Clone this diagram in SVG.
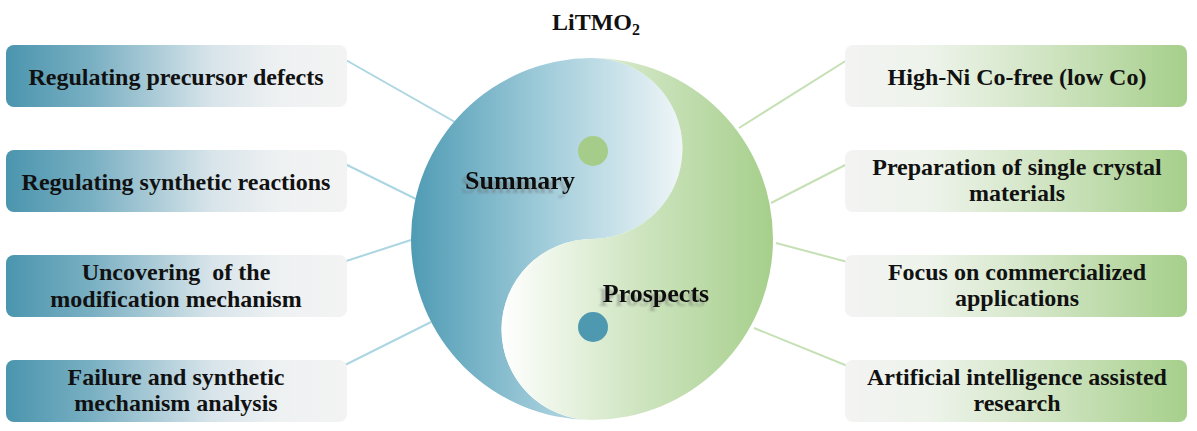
<svg xmlns="http://www.w3.org/2000/svg" width="1197" height="431" viewBox="0 0 1197 431">
<defs>
<linearGradient id="gLeftBox" x1="0" y1="0" x2="1" y2="0">
<stop offset="0" stop-color="#4a95ae"/>
<stop offset="0.25" stop-color="#79afc2"/>
<stop offset="0.6" stop-color="#d7e4ea"/>
<stop offset="0.8" stop-color="#eef1f2"/>
<stop offset="1" stop-color="#f3f3f3"/>
</linearGradient>
<linearGradient id="gRightBox" x1="0" y1="0" x2="1" y2="0">
<stop offset="0" stop-color="#f3f3f3"/>
<stop offset="0.25" stop-color="#edf3ea"/>
<stop offset="0.6" stop-color="#cfe4c1"/>
<stop offset="1" stop-color="#a6cf8b"/>
</linearGradient>
<linearGradient id="gBlue" gradientUnits="userSpaceOnUse" x1="411" y1="0" x2="684" y2="0">
<stop offset="0" stop-color="#4f9bb4"/>
<stop offset="0.5" stop-color="#a2cddb"/>
<stop offset="1" stop-color="#f0f6f8"/>
</linearGradient>
<linearGradient id="gGreen" gradientUnits="userSpaceOnUse" x1="501" y1="0" x2="773" y2="0">
<stop offset="0" stop-color="#ffffff"/>
<stop offset="0.5" stop-color="#cfe5c1"/>
<stop offset="1" stop-color="#a6cf8b"/>
</linearGradient>
<filter id="shadow" x="-20%" y="-30%" width="140%" height="170%">
<feGaussianBlur in="SourceAlpha" stdDeviation="1.3" result="b"/>
<feOffset in="b" dx="-4" dy="4" result="o"/>
<feFlood flood-color="#666666" flood-opacity="0.4"/>
<feComposite in2="o" operator="in" result="s"/>
<feMerge><feMergeNode in="s"/><feMergeNode in="SourceGraphic"/></feMerge>
</filter>
<style>
text{font-family:'Liberation Serif','Times New Roman',serif;font-weight:bold;fill:#111;text-anchor:middle;}
.bt{font-size:24px;}
.lb{fill:url(#gLeftBox);}
.rb{fill:url(#gRightBox);}
.ll{stroke:#acd6e1;stroke-width:2;fill:none;}
.rl{stroke:#c6e0b6;stroke-width:2;fill:none;}
.ld{fill:#acd7e2;}
.rd{fill:#c4e0b1;}
</style>
</defs>
<rect width="1197" height="431" fill="#ffffff"/>

<g id="connectors">
<line class="ll" x1="337" y1="55" x2="455" y2="122"/>
<line class="ll" x1="337" y1="160" x2="416" y2="199"/>
<line class="ll" x1="337" y1="264" x2="411" y2="240"/>
<line class="ll" x1="337" y1="369" x2="431" y2="322"/>
<line class="rl" x1="855" y1="55" x2="739" y2="128"/>
<line class="rl" x1="855" y1="160" x2="771" y2="203"/>
<line class="rl" x1="855" y1="264" x2="776" y2="243"/>
<line class="rl" x1="855" y1="369" x2="754" y2="328"/>
<circle class="ld" cx="337" cy="55" r="8"/>
<circle class="ld" cx="337" cy="160" r="8"/>
<circle class="ld" cx="337" cy="264" r="8"/>
<circle class="ld" cx="337" cy="369" r="8"/>
<circle class="rd" cx="855" cy="55" r="8"/>
<circle class="rd" cx="855" cy="160" r="8"/>
<circle class="rd" cx="855" cy="264" r="8"/>
<circle class="rd" cx="855" cy="369" r="8"/>
</g>

<g id="title">
<text x="596" y="30" font-size="24">LiTMO<tspan font-size="16" dy="5">2</tspan></text>
</g>

<g id="yinyang">
<path d="M592,58 A181,181 0 0 0 592,420 A90.5,90.5 0 0 1 592,239 A90.5,90.5 0 0 0 592,58 Z" fill="url(#gBlue)"/>
<path d="M592,58 A181,181 0 0 1 592,420 A90.5,90.5 0 0 1 592,239 A90.5,90.5 0 0 0 592,58 Z" fill="url(#gGreen)"/>
<circle cx="593" cy="151" r="15" fill="#a5cd89"/>
<circle cx="593" cy="327" r="15" fill="#4e98b0"/>
</g>

<g id="summary">
<text x="520" y="189" font-size="26" filter="url(#shadow)">Summary</text>
</g>
<g id="prospects">
<text x="656" y="302" font-size="26" filter="url(#shadow)">Prospects</text>
</g>

<g id="node-l1">
<rect class="lb" x="6" y="45" width="341" height="62" rx="8"/>
<text class="bt" x="176" y="85">Regulating precursor defects</text>
</g>
<g id="node-l2">
<rect class="lb" x="6" y="150" width="341" height="62" rx="8"/>
<text class="bt" x="176" y="190">Regulating synthetic reactions</text>
</g>
<g id="node-l3">
<rect class="lb" x="6" y="255" width="341" height="62" rx="8"/>
<text class="bt" x="176" y="280" xml:space="preserve">Uncovering  of the</text>
<text class="bt" x="176" y="307">modification mechanism</text>
</g>
<g id="node-l4">
<rect class="lb" x="6" y="360" width="341" height="62" rx="8"/>
<text class="bt" x="176" y="385">Failure and synthetic</text>
<text class="bt" x="176" y="411">mechanism analysis</text>
</g>

<g id="node-r1">
<rect class="rb" x="845" y="45" width="342" height="62" rx="8"/>
<text class="bt" x="1017" y="85">High-Ni Co-free (low Co)</text>
</g>
<g id="node-r2">
<rect class="rb" x="845" y="150" width="342" height="62" rx="8"/>
<text class="bt" x="1017" y="175">Preparation of single crystal</text>
<text class="bt" x="1017" y="201">materials</text>
</g>
<g id="node-r3">
<rect class="rb" x="845" y="255" width="342" height="62" rx="8"/>
<text class="bt" x="1017" y="280">Focus on commercialized</text>
<text class="bt" x="1017" y="306">applications</text>
</g>
<g id="node-r4">
<rect class="rb" x="845" y="360" width="342" height="62" rx="8"/>
<text class="bt" x="1017" y="385">Artificial intelligence assisted</text>
<text class="bt" x="1017" y="411">research</text>
</g>
</svg>
